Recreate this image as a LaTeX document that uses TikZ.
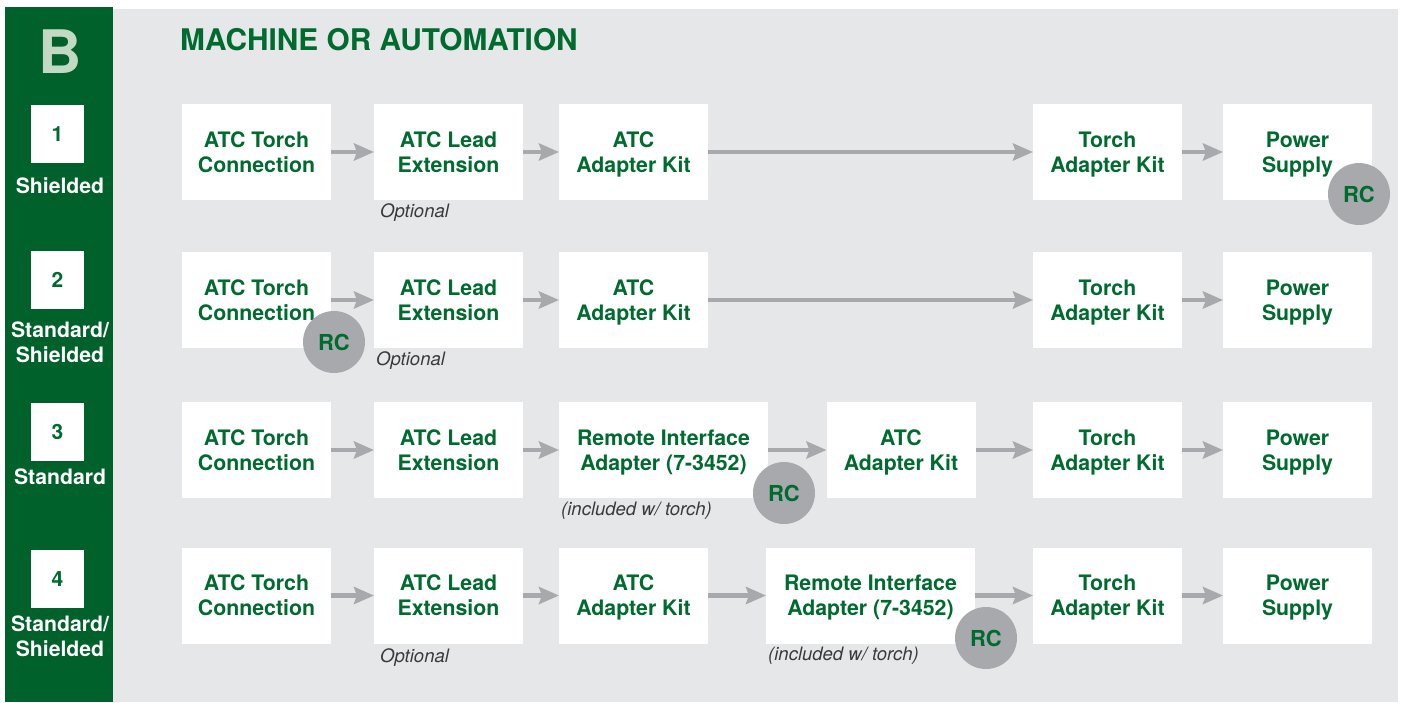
\documentclass[tikz,border=0pt]{standalone}
\usepackage{fontspec}
\setmainfont{TeX Gyre Heros}
\usetikzlibrary{arrows.meta}
\definecolor{dkgreen}{HTML}{00612A}
\definecolor{txgreen}{HTML}{006B2F}
\definecolor{bggray}{HTML}{E6E7E8}
\definecolor{argray}{HTML}{A7A9AC}
\definecolor{lightB}{HTML}{C2D9C3}
\definecolor{notegray}{HTML}{3A3A3A}
\newcommand\twolines[2]{\raisebox{0pt}[15.3pt][0pt]{#1}\\\raisebox{0pt}[0pt][0pt]{#2}}
\tikzset{
  stepbox/.style={fill=white, draw=none, minimum height=96pt, inner sep=0pt, outer sep=0pt,
    align=center, text=txgreen, font=\fontsize{21.3}{25}\selectfont\bfseries},
  narrow/.style={stepbox, minimum width=149pt},
  wide/.style={stepbox, minimum width=209pt},
  numbox/.style={fill=white, minimum width=53pt, minimum height=58pt, inner sep=0pt,
    text=txgreen, font=\fontsize{21}{25}\selectfont\bfseries},
  sidelabel/.style={text=white, align=center, inner sep=0pt, font=\fontsize{21.2}{25}\selectfont\bfseries},
  rcdot/.style={circle, fill=argray, minimum size=62pt, inner sep=0pt, text=txgreen,
    font=\fontsize{22}{25}\selectfont\bfseries},
  note/.style={anchor=west, inner sep=0pt, text=notegray, font=\fontsize{18.5}{22}\selectfont\itshape},
  arr/.style={draw=argray, line width=4.5pt, -{Stealth[length=20pt, width=17pt, inset=3pt]}}
}
\begin{document}
\begin{tikzpicture}[x=1pt, y=-1pt]
\useasboundingbox (0,0) rectangle (1403,702);
\fill[white] (0,0) rectangle (1403,702);
\fill[bggray] (113,9) rectangle (1398,702);
\fill[dkgreen] (5,7) rectangle (113,702);
\node[text=lightB, font=\fontsize{60}{60}\selectfont\bfseries, inner sep=0pt] (bigB) at (60,52) {B};
\node[anchor=west, inner sep=0pt, text=txgreen, font=\fontsize{29.8}{32}\selectfont\bfseries] (title) at (180,40) {MACHINE OR AUTOMATION};
% side numbers and labels
\node[numbox] (n1) at (57.5,134) {1};
\node[sidelabel] (s1) at (60,186) {Shielded};
\node[numbox] (n2) at (57.5,280) {2};
\node[sidelabel] (s2) at (60,342) {Standard/\\Shielded};
\node[numbox] (n3) at (57.5,432) {3};
\node[sidelabel] (s3) at (60,477) {Standard};
\node[numbox] (n4) at (57.5,579) {4};
\node[sidelabel] (s4) at (60,636) {Standard/\\Shielded};
% row 1
\node[narrow] (a1) at (256.5,152) {\twolines{ATC Torch}{Connection}};
\node[narrow] (b1) at (448.5,152) {\twolines{ATC Lead}{Extension}};
\node[narrow] (c1) at (633.5,152) {\twolines{ATC}{Adapter Kit}};
\node[narrow] (t1) at (1107.5,152) {\twolines{Torch}{Adapter Kit}};
\node[narrow] (p1) at (1297.5,152) {\twolines{Power}{Supply}};
\draw[arr] (a1) -- (b1);
\draw[arr] (b1) -- (c1);
\draw[arr] (c1) -- (t1);
\draw[arr] (t1) -- (p1);
\node[note] (o1) at (380,213) {Optional};
\node[rcdot] (rc1) at (1359,194) {RC};
% row 2
\node[narrow] (a2) at (256.5,300) {\twolines{ATC Torch}{Connection}};
\node[narrow] (b2) at (448.5,300) {\twolines{ATC Lead}{Extension}};
\node[narrow] (c2) at (633.5,300) {\twolines{ATC}{Adapter Kit}};
\node[narrow] (t2) at (1107.5,300) {\twolines{Torch}{Adapter Kit}};
\node[narrow] (p2) at (1297.5,300) {\twolines{Power}{Supply}};
\draw[arr] (a2) -- (b2);
\draw[arr] (b2) -- (c2);
\draw[arr] (c2) -- (t2);
\draw[arr] (t2) -- (p2);
\node[note] (o2) at (376,361) {Optional};
\node[rcdot] (rc2) at (334,342) {RC};
% row 3
\node[narrow] (a3) at (256.5,450) {\twolines{ATC Torch}{Connection}};
\node[narrow] (b3) at (448.5,450) {\twolines{ATC Lead}{Extension}};
\node[wide] (c3) at (663.5,450) {\twolines{Remote Interface}{Adapter (7-3452)}};
\node[narrow] (d3) at (901,450) {\twolines{ATC}{Adapter Kit}};
\node[narrow] (t3) at (1107.5,450) {\twolines{Torch}{Adapter Kit}};
\node[narrow] (p3) at (1297.5,450) {\twolines{Power}{Supply}};
\draw[arr] (a3) -- (b3);
\draw[arr] (b3) -- (c3);
\draw[arr] (c3) -- (d3);
\draw[arr] (d3) -- (t3);
\draw[arr] (t3) -- (p3);
\node[note] (o3) at (561,511) {(included w/ torch)};
\node[rcdot] (rc3) at (784,493) {RC};
% row 4
\node[narrow] (a4) at (256.5,595.5) {\twolines{ATC Torch}{Connection}};
\node[narrow] (b4) at (448.5,595.5) {\twolines{ATC Lead}{Extension}};
\node[narrow] (c4) at (633.5,595.5) {\twolines{ATC}{Adapter Kit}};
\node[wide] (d4) at (870.5,595.5) {\twolines{Remote Interface}{Adapter (7-3452)}};
\node[narrow] (t4) at (1107.5,595.5) {\twolines{Torch}{Adapter Kit}};
\node[narrow] (p4) at (1297.5,595.5) {\twolines{Power}{Supply}};
\draw[arr] (a4) -- (b4);
\draw[arr] (b4) -- (c4);
\draw[arr] (c4) -- (d4);
\draw[arr] (d4) -- (t4);
\draw[arr] (t4) -- (p4);
\node[note] (o4) at (380,658) {Optional};
\node[note] (o5) at (768,656) {(included w/ torch)};
\node[rcdot] (rc4) at (986,638) {RC};
\end{tikzpicture}
\end{document}
